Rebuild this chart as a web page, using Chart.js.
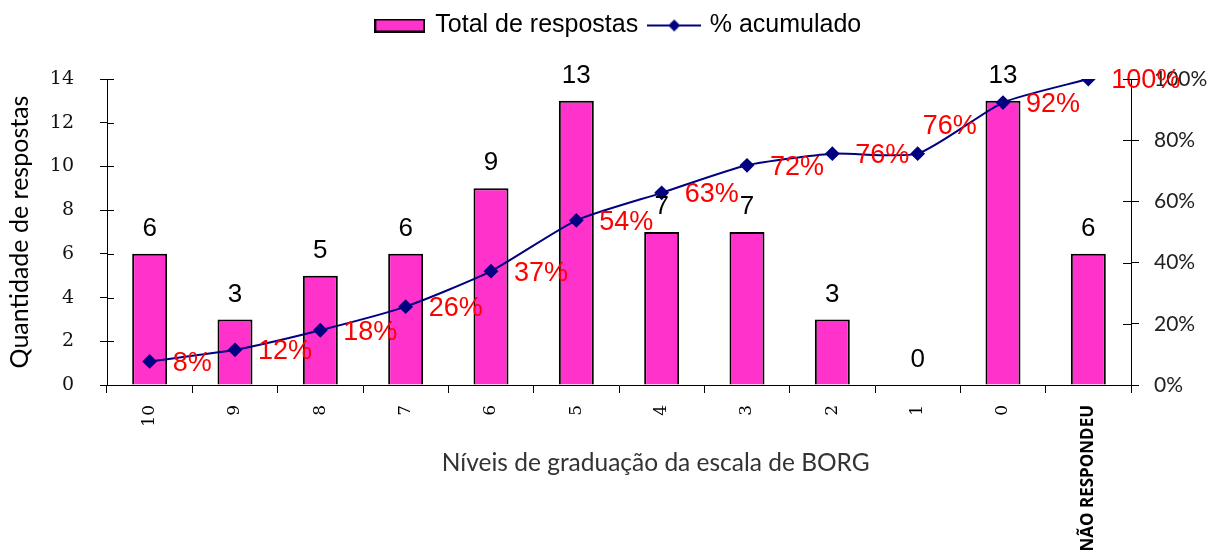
<!DOCTYPE html>
<html>
<head>
<meta charset="utf-8">
<script src="https://cdn.jsdelivr.net/npm/chart.js@4.4.0/dist/chart.umd.min.js"></script>
<style>
	html, body { margin: 0; padding: 0; background: #fff; overflow: hidden; }
	#wrap { width: 1210px; height: 558px; position: relative; }
</style>
</head>
<body>
<div id="wrap"><canvas id="chart"></canvas></div>
<script>
// Chart data
const categories = ['10', '9', '8', '7', '6', '5', '4', '3', '2', '1', '0', 'NÃO RESPONDEU'];
const totalRespostas = [6, 3, 5, 6, 9, 13, 7, 7, 3, 0, 13, 6];
const percentAcumulado = [7.7, 11.5, 17.9, 25.6, 37.2, 53.8, 62.8, 71.8, 75.6, 75.6, 92.3, 100];
const percentLabels = ['8%', '12%', '18%', '26%', '37%', '54%', '63%', '72%', '76%', '76%', '92%', '100%'];

const PINK = '#FF33CC';
const NAVY = '#000080';
const LABEL_FONT = '"Liberation Sans", Arial, sans-serif';

// Legend swatches (box with border, line with diamond)
function makeBarSwatch() {
	const c = document.createElement('canvas');
	c.width = 51; c.height = 14;
	const g = c.getContext('2d');
	g.fillStyle = PINK;
	g.fillRect(1, 1, 49, 12);
	g.strokeStyle = '#000';
	g.lineWidth = 2;
	g.strokeRect(1, 1, 49, 12);
	return c;
}

function makeLineSwatch() {
	const c = document.createElement('canvas');
	c.width = 54; c.height = 14;
	const g = c.getContext('2d');
	g.strokeStyle = NAVY;
	g.lineWidth = 2;
	g.beginPath(); g.moveTo(0, 7); g.lineTo(54, 7); g.stroke();
	g.fillStyle = NAVY;
	g.beginPath(); g.moveTo(27, 1); g.lineTo(33, 7); g.lineTo(27, 13); g.lineTo(21, 7); g.closePath(); g.fill();
	return c;
}

const barSwatch = makeBarSwatch();
const lineSwatch = makeLineSwatch();

// Value labels above bars and next to the line points
const valueLabels = {
	id: 'valueLabels',
	afterDatasetsDraw(chart) {
		const ctx = chart.ctx;
		ctx.save();
		ctx.textBaseline = 'middle';

		ctx.font = '26px ' + LABEL_FONT;
		ctx.fillStyle = '#000';
		ctx.textAlign = 'center';
		chart.getDatasetMeta(0).data.forEach((bar, i) => {
			ctx.fillText(String(totalRespostas[i]), bar.x, bar.y - 25);
		});

		ctx.font = '27px ' + LABEL_FONT;
		ctx.fillStyle = '#FF0000';
		ctx.textAlign = 'left';
		chart.getDatasetMeta(1).data.forEach((pt, i) => {
			// the second 76% label sits above its point
			const dx = i === 9 ? 5 : 23;
			const dy = i === 9 ? -27 : 2;
			ctx.fillText(percentLabels[i], pt.x + dx, pt.y + dy);
		});
		ctx.restore();
	}
};

// Excel style ticks that cross the vertical axes
const crossTicks = {
	id: 'crossTicks',
	afterDraw(chart) {
		const ctx = chart.ctx;
		ctx.save();
		ctx.strokeStyle = '#000';
		ctx.lineWidth = 1;
		['y', 'y1'].forEach(id => {
			const s = chart.scales[id];
			const ax = id === 'y' ? s.right : s.left;
			const inner = id === 'y' ? 7 : -8;
			s.ticks.forEach((t, i) => {
				const py = Math.round(s.getPixelForTick(i)) + 0.5;
				ctx.beginPath();
				ctx.moveTo(ax, py);
				ctx.lineTo(ax + inner, py);
				ctx.stroke();
			});
		});
		ctx.restore();
	}
};

const ctx = document.getElementById('chart').getContext('2d');
new Chart(ctx, {
	data: {
		labels: categories,
		datasets: [
			{
				type: 'bar',
				label: 'Total de respostas',
				data: totalRespostas,
				yAxisID: 'y',
				backgroundColor: PINK,
				borderColor: '#000',
				borderWidth: 2,
				barPercentage: 0.41,
				categoryPercentage: 1,
				order: 2
			},
			{
				type: 'line',
				label: '% acumulado',
				data: percentAcumulado,
				yAxisID: 'y1',
				borderColor: NAVY,
				borderWidth: 2,
				pointStyle: 'rectRot',
				pointRadius: 6,
				pointBackgroundColor: NAVY,
				pointBorderColor: NAVY,
				tension: 0.2,
				order: 1
			}
		]
	},
	options: {
		responsive: true,
		maintainAspectRatio: false,
		animation: false,
		layout: { padding: 0 },
		plugins: {
			tooltip: { enabled: false },
			legend: {
				position: 'top',
				fullSize: false,
				labels: {
					usePointStyle: true,
					pointStyleWidth: 46,
					padding: 13,
					color: '#000',
					font: { family: LABEL_FONT, size: 25 },
					generateLabels: () => [
						{ text: 'Total de respostas', pointStyle: barSwatch, datasetIndex: 0, lineWidth: 0, fillStyle: 'transparent', strokeStyle: 'transparent', fontColor: '#000' },
						{ text: '% acumulado', pointStyle: lineSwatch, datasetIndex: 1, lineWidth: 0, fillStyle: 'transparent', strokeStyle: 'transparent', fontColor: '#000' }
					]
				}
			},
			// empty title used as a spacer between legend and plot
			title: {
				display: true,
				text: '',
				weight: 500,
				font: { size: 10, lineHeight: 1.2 },
				padding: { top: 0, bottom: 19 }
			}
		},
		scales: {
			x: {
				grid: { offset: true, drawOnChartArea: false, tickLength: 8, color: '#000' },
				border: { color: '#000', width: 1 },
				ticks: {
					autoSkip: false,
					minRotation: 90,
					maxRotation: 90,
					padding: 12,
					color: '#000',
					font: c => c.index === 11
						? { family: '"Open Sans", sans-serif', size: 17, weight: 'bold' }
						: { family: '"DejaVu Serif", serif', size: 17 }
				},
				title: {
					display: true,
					text: '\u2003\u2003\u2003\u2003Níveis de graduação da escala de BORG',
					color: '#333',
					font: { family: 'Lato, sans-serif', size: 24.5, lineHeight: 1.2 },
					padding: { top: 0, bottom: 80 }
				},
				afterFit: s => { s.height = 173; }
			},
			y: {
				position: 'left',
				min: 0,
				max: 14,
				grid: { drawOnChartArea: false, tickLength: 7, color: '#000' },
				border: { color: '#000', width: 1 },
				ticks: {
					stepSize: 2,
					padding: 26,
					color: '#111',
					font: { family: '"DejaVu Serif", serif', size: 19 }
				},
				title: {
					display: true,
					text: 'Quantidade de respostas',
					color: '#000',
					font: { family: 'Lato, sans-serif', size: 25, lineHeight: 1.2 },
					padding: { top: 5, bottom: 0 }
				},
				afterFit: s => { s.width = 107; }
			},
			y1: {
				position: 'right',
				min: 0,
				max: 100,
				grid: { drawOnChartArea: false, tickLength: 8, color: '#000' },
				border: { color: '#000', width: 1 },
				ticks: {
					stepSize: 20,
					padding: 15,
					color: '#222',
					font: { family: 'Lato, sans-serif', size: 21 },
					callback: v => v + '%'
				},
				afterFit: s => { s.width = 79; }
			}
		}
	},
	plugins: [valueLabels, crossTicks]
});
</script>
</body>
</html>
